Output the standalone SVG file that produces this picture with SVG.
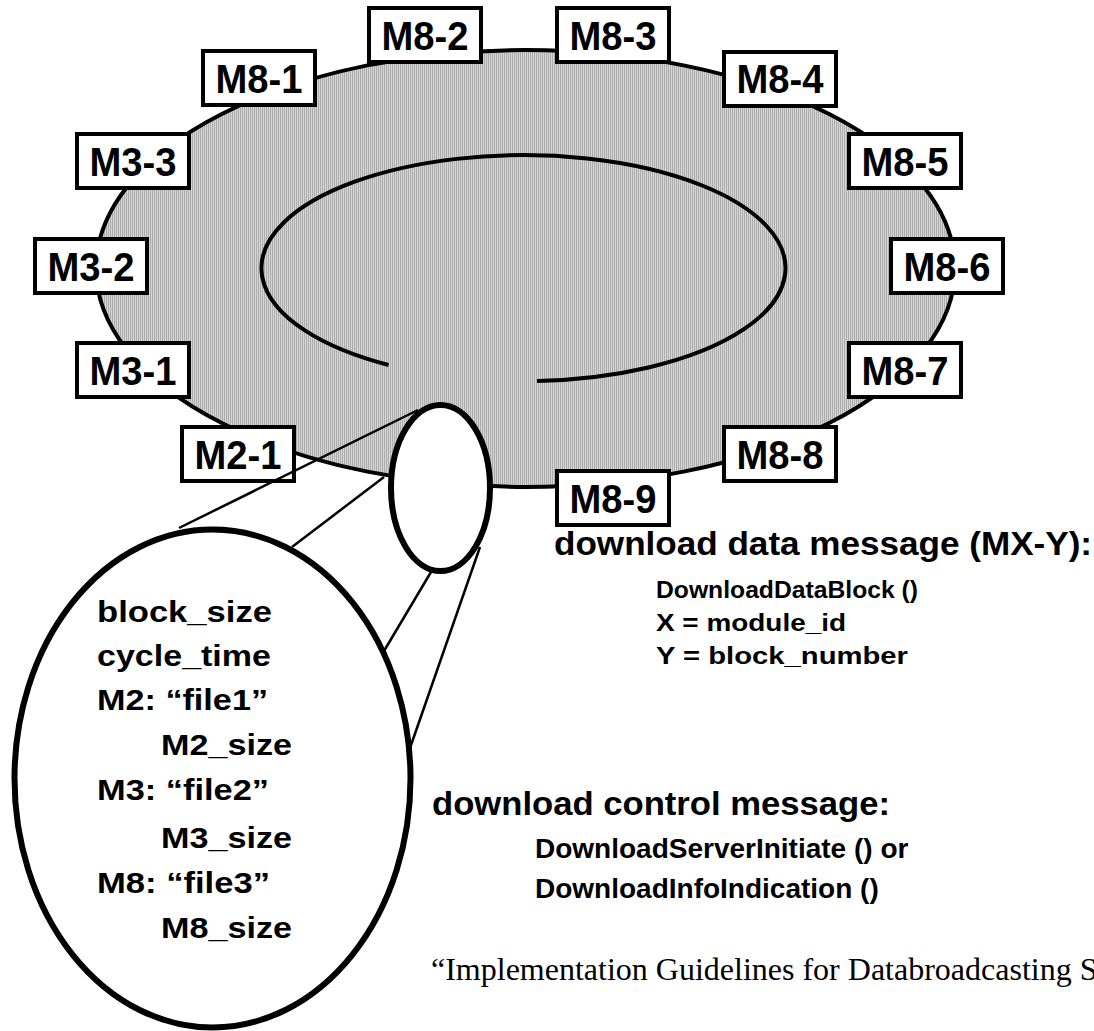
<svg xmlns="http://www.w3.org/2000/svg" width="1094" height="1031" viewBox="0 0 1094 1031">
<style>
.box{fill:#fff;stroke:#000;stroke-width:4}
.lbl{font-family:"Liberation Sans",Arial,sans-serif;font-weight:bold;font-size:41px;text-anchor:middle;fill:#000}
.bt{font-family:"Liberation Sans",Arial,sans-serif;font-weight:bold;fill:#000}
.conn{stroke:#000;stroke-width:2.5;fill:none}
</style>
<defs>
<pattern id="hatch" width="2" height="4" patternUnits="userSpaceOnUse">
<rect x="0" y="0" width="1" height="4" fill="#aeaeae"/>
<rect x="1" y="0" width="1" height="4" fill="#d4d4d4"/>
</pattern>
</defs>
<rect width="1094" height="1031" fill="#fff"/>
<g id="carousel">
<ellipse cx="525.5" cy="268.5" rx="429.5" ry="218.5" fill="url(#hatch)" stroke="#000" stroke-width="4"/>
<path d="M388.5 365 A262 113 0 1 1 537 381" fill="none" stroke="#000" stroke-width="4"/>
</g>
<g id="zoom-ellipse">
<ellipse cx="440.5" cy="488" rx="49.5" ry="83" fill="#fff" stroke="#000" stroke-width="6"/>
</g>
<g id="M8-2"><rect class="box" x="369" y="8" width="112" height="54"/><text class="lbl" x="425" y="50" textLength="87" lengthAdjust="spacingAndGlyphs">M8-2</text></g>
<g id="M8-3"><rect class="box" x="557" y="8" width="112" height="54"/><text class="lbl" x="613" y="50" textLength="87" lengthAdjust="spacingAndGlyphs">M8-3</text></g>
<g id="M8-1"><rect class="box" x="203" y="51" width="112" height="54"/><text class="lbl" x="259" y="93" textLength="87" lengthAdjust="spacingAndGlyphs">M8-1</text></g>
<g id="M8-4"><rect class="box" x="724" y="52" width="112" height="54"/><text class="lbl" x="780" y="93" textLength="87" lengthAdjust="spacingAndGlyphs">M8-4</text></g>
<g id="M3-3"><rect class="box" x="77" y="134" width="112" height="54"/><text class="lbl" x="133" y="176" textLength="87" lengthAdjust="spacingAndGlyphs">M3-3</text></g>
<g id="M8-5"><rect class="box" x="849" y="134" width="112" height="54"/><text class="lbl" x="905" y="176" textLength="87" lengthAdjust="spacingAndGlyphs">M8-5</text></g>
<g id="M3-2"><rect class="box" x="35" y="239" width="112" height="54"/><text class="lbl" x="91" y="281" textLength="87" lengthAdjust="spacingAndGlyphs">M3-2</text></g>
<g id="M8-6"><rect class="box" x="891" y="239" width="112" height="54"/><text class="lbl" x="947" y="281" textLength="87" lengthAdjust="spacingAndGlyphs">M8-6</text></g>
<g id="M3-1"><rect class="box" x="77" y="343" width="112" height="54"/><text class="lbl" x="133" y="385" textLength="87" lengthAdjust="spacingAndGlyphs">M3-1</text></g>
<g id="M8-7"><rect class="box" x="849" y="343" width="112" height="54"/><text class="lbl" x="905" y="385" textLength="87" lengthAdjust="spacingAndGlyphs">M8-7</text></g>
<g id="M2-1"><rect class="box" x="182" y="427" width="112" height="54"/><text class="lbl" x="238" y="469" textLength="87" lengthAdjust="spacingAndGlyphs">M2-1</text></g>
<g id="M8-8"><rect class="box" x="724" y="427" width="112" height="54"/><text class="lbl" x="780" y="469" textLength="87" lengthAdjust="spacingAndGlyphs">M8-8</text></g>
<g id="M8-9"><rect class="box" x="557" y="471" width="112" height="54"/><text class="lbl" x="613" y="513" textLength="87" lengthAdjust="spacingAndGlyphs">M8-9</text></g>
<g id="detail-ellipse">
<ellipse cx="212.5" cy="778.5" rx="198" ry="249" fill="#fff" stroke="#000" stroke-width="6"/>
<text class="bt" font-size="30" x="97" y="622" textLength="175" lengthAdjust="spacingAndGlyphs">block_size</text>
<text class="bt" font-size="30" x="97" y="666" textLength="174" lengthAdjust="spacingAndGlyphs">cycle_time</text>
<text class="bt" font-size="30" x="97" y="710" textLength="171" lengthAdjust="spacingAndGlyphs">M2: “file1”</text>
<text class="bt" font-size="30" x="161" y="755" textLength="131" lengthAdjust="spacingAndGlyphs">M2_size</text>
<text class="bt" font-size="30" x="97" y="800" textLength="172" lengthAdjust="spacingAndGlyphs">M3: “file2”</text>
<text class="bt" font-size="30" x="161" y="848" textLength="131" lengthAdjust="spacingAndGlyphs">M3_size</text>
<text class="bt" font-size="30" x="97" y="893" textLength="173" lengthAdjust="spacingAndGlyphs">M8: “file3”</text>
<text class="bt" font-size="30" x="161" y="938" textLength="131" lengthAdjust="spacingAndGlyphs">M8_size</text>
</g>
<g id="connectors">
<line class="conn" x1="179" y1="528" x2="418" y2="410"/>
<line class="conn" x1="292" y1="547" x2="384" y2="477"/>
<line class="conn" x1="384" y1="651" x2="431" y2="572"/>
<line class="conn" x1="410" y1="748" x2="480" y2="547"/>
</g>
<g id="data-message">
<text class="bt" font-size="33" x="554" y="555" textLength="538" lengthAdjust="spacingAndGlyphs">download data message (MX-Y):</text>
<text class="bt" font-size="24" x="656" y="598" textLength="262" lengthAdjust="spacingAndGlyphs">DownloadDataBlock ()</text>
<text class="bt" font-size="24" x="656" y="631" textLength="190" lengthAdjust="spacingAndGlyphs">X = module_id</text>
<text class="bt" font-size="24" x="656" y="664" textLength="252" lengthAdjust="spacingAndGlyphs">Y = block_number</text>
</g>
<g id="control-message">
<text class="bt" font-size="33" x="432" y="815" textLength="458" lengthAdjust="spacingAndGlyphs">download control message:</text>
<text class="bt" font-size="28" x="535" y="858">DownloadServerInitiate () or</text>
<text class="bt" font-size="28" x="535" y="898">DownloadInfoIndication ()</text>
</g>
<text id="source" x="431" y="980" font-family="'Liberation Serif','Times New Roman',serif" font-size="32" fill="#000">“Implementation Guidelines for Databroadcasting S</text>
</svg>
